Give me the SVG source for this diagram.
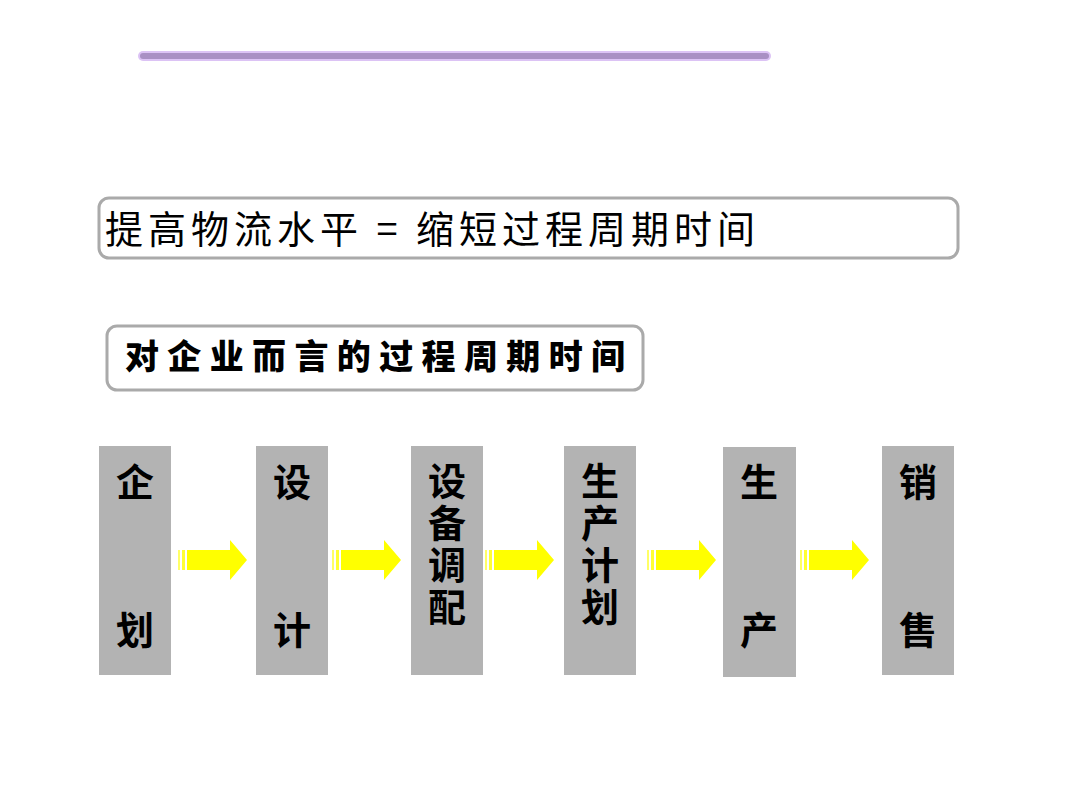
<svg xmlns="http://www.w3.org/2000/svg" width="1080" height="810" viewBox="0 0 1080 810">
<style>
.frame{fill:#ffffff;stroke:#aaaaaa;stroke-width:3}
.step{fill:#b3b3b3}
.lbl{font-family:"Noto Sans CJK SC","Noto Sans CJK JP",sans-serif;font-size:38px;font-weight:700;fill:#000000;text-anchor:middle}
.vlbl{font-family:"Noto Sans CJK SC","Noto Sans CJK JP",sans-serif;font-size:38px;font-weight:700;fill:#000000;writing-mode:vertical-rl;letter-spacing:4px}
.arr{fill:#ffff00}
</style>
<defs>
<g id="arrow">
<rect class="arr" x="0" y="550" width="2" height="20" opacity="0.6"/>
<rect class="arr" x="4" y="550" width="3" height="20" opacity="0.8"/>
<path class="arr" d="M9,550 H52 V540 L69,560 L52,580 V570 H9 Z"/>
</g>
</defs>
<rect width="1080" height="810" fill="#ffffff"/>
<g id="rule">
<line x1="143" y1="56" x2="766" y2="56" stroke="#dcc3f5" stroke-width="10" stroke-linecap="round"/>
<line x1="143" y1="56" x2="766" y2="56" stroke="#a990c4" stroke-width="6" stroke-linecap="round"/>
</g>
<g id="headline">
<rect class="frame" x="99" y="198" width="859" height="60" rx="10"/>
<text x="105" y="243" font-family="'Noto Sans CJK SC','Noto Sans CJK JP',sans-serif" font-size="38" textLength="650" lengthAdjust="spacing">提高物流水平 = 缩短过程周期时间</text>
</g>
<g id="subhead">
<rect class="frame" x="107" y="326" width="536" height="64" rx="10"/>
<text x="125" y="369" font-family="'Noto Sans CJK SC','Noto Sans CJK JP',sans-serif" font-size="34" font-weight="900" textLength="500" lengthAdjust="spacing">对企业而言的过程周期时间</text>
</g>
<g id="node-1">
<rect class="step" x="99" y="446" width="72" height="229"/>
<text class="lbl" x="135" y="496">企</text>
<text class="lbl" x="135" y="644">划</text>
</g>
<g id="node-2">
<rect class="step" x="256" y="446" width="72" height="229"/>
<text class="lbl" x="292" y="496">设</text>
<text class="lbl" x="292" y="644">计</text>
</g>
<g id="node-3">
<rect class="step" x="411" y="446" width="72" height="229"/>
<text class="vlbl" x="447" y="462">设备调配</text>
</g>
<g id="node-4">
<rect class="step" x="564" y="446" width="72" height="229"/>
<text class="vlbl" x="600" y="462">生产计划</text>
</g>
<g id="node-5">
<rect class="step" x="723" y="447" width="73" height="230"/>
<text class="lbl" x="759" y="496">生</text>
<text class="lbl" x="759" y="644">产</text>
</g>
<g id="node-6">
<rect class="step" x="882" y="446" width="72" height="229"/>
<text class="lbl" x="918" y="496">销</text>
<text class="lbl" x="918" y="644">售</text>
</g>
<g id="connectors">
<use href="#arrow" x="178"/>
<use href="#arrow" x="332"/>
<use href="#arrow" x="485"/>
<use href="#arrow" x="647"/>
<use href="#arrow" x="800"/>
</g>
</svg>
